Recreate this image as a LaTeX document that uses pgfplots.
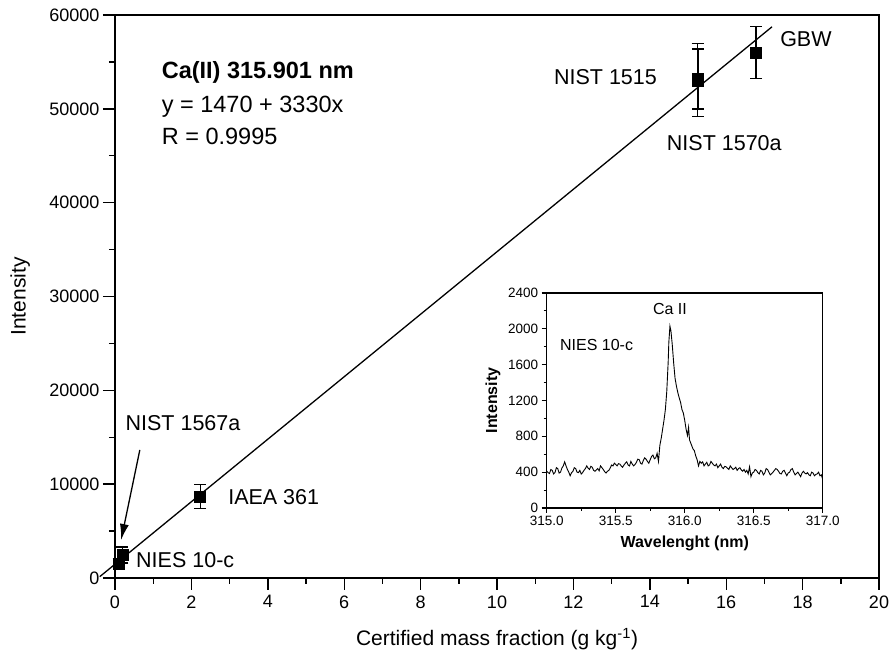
\documentclass[border=0pt]{standalone}
\usepackage{fontspec}
\setmainfont{Liberation Sans}
\usepackage{pgfplots}
\pgfplotsset{compat=1.18}
\usetikzlibrary{arrows.meta}

\newcommand{\fs}[1]{\fontsize{#1bp}{#1bp}\selectfont}

% calibration standards: x, y, error
\pgfplotstableread{
x      y      err
0.095  1570   500
0.191  2450   850
2.23   8700   1300
15.25  53050  3880
15.26  53180  3200
16.78  56000  2800
}\calib

\begin{document}
\begin{tikzpicture}
\useasboundingbox (0,0) rectangle (889bp,654bp);
\begin{axis}[
    at={(115bp,76bp)}, anchor=south west,
    width=764bp, height=563bp, scale only axis,
    xmin=0, xmax=20, ymin=0, ymax=60000,
    xtick={0,2,...,20}, ytick={0,10000,...,60000},
    minor x tick num=1, minor y tick num=1,
    xtick pos=bottom, ytick pos=left, tick align=outside,
    major tick length=12bp, minor tick length=6bp,
    axis line style={line width=1.7bp},
    every tick/.style={line width=1.4bp, black},
    scaled y ticks=false,
    /pgf/number format/assume math mode=true,
    /pgf/number format/1000 sep={},
    tick label style={font=\fs{18}},
    xticklabel style={yshift=-2bp},
    xlabel={Certified mass fraction (g kg\textsuperscript{-1})},
    ylabel={Intensity},
    label style={font=\fs{21}},
    xlabel style={at={(axis description cs:0.5,-0.109)}, anchor=center},
    ylabel style={at={(axis description cs:-0.124,0.5)}, anchor=center},
    clip=false,
]
\addplot[black, line width=1.3bp] coordinates {(-0.4,138) (17.2,58746)};
\addplot[black, only marks, mark=square*, mark size=5.5bp,
    error bars/.cd, y dir=both, y explicit,
    error bar style={line width=1.2bp},
    error mark options={black, rotate=90, mark size=6bp, line width=1.2bp}]
    table[x=x, y=y, y error=err] {\calib};

\node[anchor=west, inner sep=0pt, font=\bfseries\fs{23.5}] at (axis cs:1.22,53870) {Ca(II) 315.901 nm};
\node[anchor=west, inner sep=0pt, font=\fs{23.5}] at (axis cs:1.22,50240) {y = 1470 + 3330x};
\node[anchor=west, inner sep=0pt, font=\fs{23.5}] at (axis cs:1.22,47040) {R = 0.9995};

\node[anchor=center, inner sep=0pt, font=\fs{21.5}] at (axis cs:1.78,16520) {NIST 1567a};
\node[anchor=west, inner sep=0pt, font=\fs{21.5}] at (axis cs:2.96,8630) {IAEA 361};
\node[anchor=west, inner sep=0pt, font=\fs{21.5}] at (axis cs:0.55,1920) {NIES 10-c};
\node[anchor=east, inner sep=0pt, font=\fs{21.5}] at (axis cs:14.19,53400) {NIST 1515};
\node[anchor=center, inner sep=0pt, font=\fs{21.5}] at (axis cs:15.95,46370) {NIST 1570a};
\node[anchor=west, inner sep=0pt, font=\fs{21.5}] at (axis cs:17.41,57460) {GBW};
\draw[line width=1.3bp, -{Latex[length=16bp, width=9bp]}] (axis cs:0.65,13650) -- (axis cs:0.16,4050);
\end{axis}

\begin{axis}[
    at={(546.7bp,146bp)}, anchor=south west,
    width=276bp, height=215bp, scale only axis,
    xmin=315, xmax=317, ymin=0, ymax=2400,
    xtick={315,315.5,...,317}, ytick={0,400,...,2400},
    minor x tick num=1, minor y tick num=1,
    xtick pos=bottom, ytick pos=left, tick align=outside,
    major tick length=5bp, minor tick length=3bp,
    axis line style={line width=1.3bp},
    every tick/.style={line width=1.1bp, black},
    /pgf/number format/assume math mode=true,
    /pgf/number format/1000 sep={},
    xticklabel style={/pgf/number format/.cd, fixed, fixed zerofill, precision=1},
    tick label style={font=\fs{13.5}},
    xlabel={Wavelenght (nm)},
    ylabel={Intensity},
    label style={font=\bfseries\fs{16}},
    xlabel style={at={(axis description cs:0.5,-0.166)}, anchor=center},
    ylabel style={at={(axis description cs:-0.195,0.5)}, anchor=center},
]
\addplot[black, line width=0.9bp] coordinates {
(315.00,410) (315.01,395) (315.02,385) (315.03,430) (315.04,420) (315.05,380) (315.06,395)
(315.07,450) (315.08,440) (315.09,390) (315.10,400) (315.11,445) (315.12,470) (315.13,515)
(315.14,470) (315.15,430) (315.16,400) (315.17,360) (315.18,395) (315.19,410) (315.20,450)
(315.21,440) (315.22,400) (315.23,395) (315.24,420) (315.25,380) (315.26,395) (315.27,420)
(315.28,440) (315.29,470) (315.30,445) (315.31,430) (315.32,465) (315.33,455) (315.34,420)
(315.35,410) (315.36,425) (315.37,440) (315.38,415) (315.39,470) (315.40,450) (315.41,430)
(315.42,405) (315.43,390) (315.44,410) (315.45,420) (315.46,445) (315.47,480) (315.48,470)
(315.49,500) (315.50,485) (315.51,470) (315.52,495) (315.53,490) (315.54,470) (315.55,455)
(315.56,480) (315.57,500) (315.58,515) (315.59,480) (315.60,470) (315.61,520) (315.62,490)
(315.63,470) (315.64,485) (315.65,510) (315.66,545) (315.67,540) (315.68,500) (315.69,490)
(315.70,530) (315.71,560) (315.72,545) (315.73,520) (315.74,500) (315.75,540) (315.76,575)
(315.77,590) (315.78,550) (315.79,560) (315.80,610) (315.81,520) (315.82,700) (315.83,780)
(315.84,880) (315.85,980) (315.86,1100) (315.87,1300) (315.88,1620) (315.885,1850)
(315.893,2030) (315.90,1980) (315.91,1820) (315.92,1620) (315.93,1450) (315.94,1360)
(315.95,1290) (315.96,1230) (315.97,1180) (315.98,1100) (315.99,1060) (316.00,980)
(316.01,880) (316.02,810) (316.028,900) (316.035,760) (316.05,700) (316.06,660)
(316.07,640) (316.08,580) (316.09,540) (316.10,470) (316.11,520) (316.12,500) (316.13,515)
(316.14,470) (316.15,490) (316.16,510) (316.17,470) (316.18,480) (316.19,520) (316.20,500)
(316.21,480) (316.22,470) (316.23,490) (316.24,450) (316.25,470) (316.26,490) (316.27,455)
(316.28,440) (316.29,465) (316.30,460) (316.31,445) (316.32,430) (316.33,470) (316.34,450)
(316.35,430) (316.36,440) (316.37,455) (316.38,420) (316.39,440) (316.40,450) (316.41,425)
(316.42,410) (316.43,430) (316.44,400) (316.45,420) (316.46,380) (316.47,460) (316.48,350)
(316.49,390) (316.50,400) (316.51,430) (316.52,420) (316.53,395) (316.54,380) (316.55,420)
(316.56,410) (316.57,370) (316.58,390) (316.59,440) (316.60,430) (316.61,400) (316.62,370)
(316.63,385) (316.64,400) (316.65,420) (316.66,440) (316.67,430) (316.68,410) (316.69,385)
(316.70,380) (316.71,410) (316.72,420) (316.73,390) (316.74,360) (316.75,390) (316.76,400)
(316.77,430) (316.78,440) (316.79,400) (316.80,370) (316.81,385) (316.82,400) (316.83,375)
(316.84,350) (316.85,390) (316.86,410) (316.87,390) (316.88,380) (316.89,395) (316.90,370)
(316.91,360) (316.92,400) (316.93,390) (316.94,360) (316.95,375) (316.96,380) (316.97,400)
(316.98,360) (316.99,370) (317.00,320)
};
\node[anchor=west, inner sep=0pt, font=\fs{16}] at (axis cs:315.096,1822) {NIES 10-c};
\node[anchor=center, inner sep=0pt, font=\fs{16}] at (axis cs:315.893,2221) {Ca II};
\end{axis}
\end{tikzpicture}
\end{document}
